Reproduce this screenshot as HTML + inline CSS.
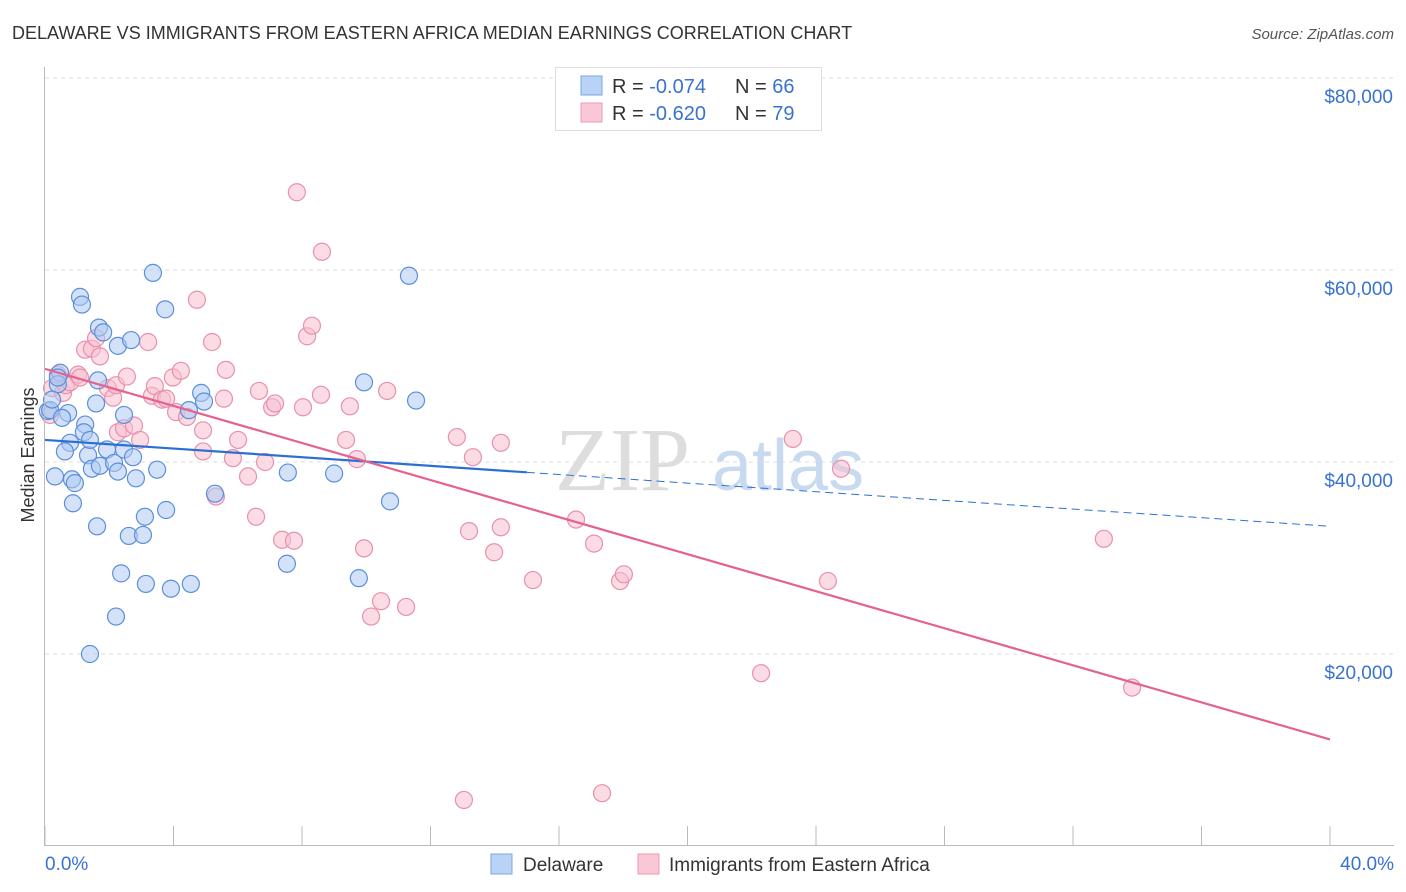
<!DOCTYPE html>
<html><head><meta charset="utf-8">
<style>
body{margin:0;background:#fff;font-family:"Liberation Sans",sans-serif;}
svg{display:block}
</style></head>
<body>
<svg id="chart" width="1406" height="892">
<text x="12" y="39" font-size="18" fill="#333">DELAWARE VS IMMIGRANTS FROM EASTERN AFRICA MEDIAN EARNINGS CORRELATION CHART</text>
<text x="1394" y="39" font-size="15" fill="#555" text-anchor="end" font-style="italic">Source: ZipAtlas.com</text>
<g id="grid"></g>
<g>
<text x="555" y="490" font-size="90" fill="#ddd" font-family="Liberation Serif,serif">ZIP</text>
<text x="712" y="490" font-size="72" fill="#c8daf0">atlas</text>
</g>
<g id="pts"></g>
<g id="lines"></g>
<g id="axes"></g>
<text transform="translate(34,455) rotate(-90)" font-size="18" fill="#333" text-anchor="middle">Median Earnings</text>
<g>
<rect x="555.5" y="67.5" width="266" height="63" fill="#fff" stroke="#ddd"/>
<rect x="581" y="76" width="21" height="19" fill="#b9d3f5" stroke="#7aa5e6"/>
<rect x="581" y="103" width="21" height="19" fill="#fac7d6" stroke="#ee9ab4"/>
<text x="612" y="93" font-size="20" fill="#333">R = <tspan fill="#3a72d0">-0.074</tspan></text>
<text x="735" y="93" font-size="20" fill="#333">N = <tspan fill="#3a72d0">66</tspan></text>
<text x="612" y="120" font-size="20" fill="#333">R = <tspan fill="#3a72d0">-0.620</tspan></text>
<text x="735" y="120" font-size="20" fill="#333">N = <tspan fill="#3a72d0">79</tspan></text>
</g>
<g>
<rect x="491" y="854" width="21" height="20" fill="#b9d3f5" stroke="#7aa5e6"/>
<text x="523" y="871" font-size="19" fill="#333">Delaware</text>
<rect x="638" y="854" width="21" height="20" fill="#fac7d6" stroke="#ee9ab4"/>
<text x="669" y="871" font-size="19" fill="#333">Immigrants from Eastern Africa</text>
</g>
</svg>
<script>
const blueX=[0.31,0.09,0.16,0.47,0.40,0.72,0.78,0.62,0.84,0.93,0.87,1.25,1.34,1.46,1.59,1.62,1.40,1.65,1.71,1.09,1.15,1.68,1.81,2.27,1.93,2.15,2.27,2.46,2.46,2.74,2.68,2.83,2.21,2.37,2.61,3.05,3.11,3.14,3.36,3.49,3.74,3.77,3.92,4.54,4.48,4.86,4.95,5.29,7.56,7.53,9.00,9.77,9.93,10.74,11.33,11.55,0.22,0.40,0.53,1.21,1.40];
const blueY=[38.5,45.3,45.4,49.3,48.1,45.1,42.0,41.1,38.2,37.8,35.7,43.9,40.7,39.3,46.1,33.3,20.0,48.5,39.6,57.2,56.4,54.0,53.5,52.1,41.3,39.9,39.0,44.9,41.3,40.5,52.7,38.3,23.9,28.4,32.3,32.4,34.3,27.3,59.7,39.2,55.9,35.0,26.8,27.3,45.4,47.2,46.3,36.7,38.9,29.4,38.8,27.9,48.3,35.9,59.4,46.4,46.5,48.8,44.6,43.1,42.3];
const pinkX=[0.16,0.22,0.40,0.56,0.65,0.78,1.03,1.09,1.25,1.46,1.59,1.71,1.96,2.12,2.21,2.27,2.46,2.55,2.77,2.96,3.21,3.33,3.42,3.64,3.77,3.98,4.08,4.23,4.42,4.73,4.92,4.92,5.20,5.32,5.57,5.63,5.85,6.01,6.32,6.57,6.66,6.85,7.07,7.16,7.38,7.75,7.84,8.03,8.16,8.31,8.59,8.62,9.37,9.49,9.71,9.93,10.15,10.46,10.65,11.24,12.82,13.20,13.32,13.04,13.98,14.19,14.19,15.19,16.53,17.09,17.34,17.90,18.02,22.29,23.28,24.37,24.78,32.96,33.84];
const pinkY=[44.9,47.7,49.1,47.2,48.0,48.3,49.1,48.8,51.7,51.8,52.9,51.0,47.7,46.7,48.0,43.1,43.5,48.9,43.8,42.3,52.5,46.9,47.9,46.5,46.6,48.8,45.2,49.5,44.7,56.9,43.3,41.1,52.5,36.4,46.6,49.6,40.4,42.3,38.5,34.3,47.4,40.0,45.7,46.1,31.9,31.8,68.1,45.7,53.1,54.2,47.0,61.9,42.3,45.8,40.3,31.0,23.9,25.5,47.4,24.9,42.6,32.8,40.5,4.8,30.6,42.0,33.2,27.7,34.0,31.5,5.5,27.6,28.3,18.0,42.4,27.6,39.3,32.0,16.5];
const yTicks=[20,40,60,80];
const yTickLabels=["$20,000","$40,000","$60,000","$80,000"];
const xTicks=[0,4,8,12,16,20,24,28,32,36,40];
const blueTrend=[42.3,33.3];
const pinkTrend=[49.7,11.1];
const blueSolidEnd=15;

const NS="http://www.w3.org/2000/svg";
const X=v=>45+v/40*1285;
const Y=v=>846-v/20*192;
function mk(tag,attrs,parent){const e=document.createElementNS(NS,tag);for(const k in attrs)e.setAttribute(k,attrs[k]);parent.appendChild(e);return e;}
const grid=document.getElementById('grid'),axes=document.getElementById('axes'),pts=document.getElementById('pts'),lines=document.getElementById('lines');
yTicks.forEach((t,i)=>{
 const l=mk('line',{x1:45,x2:1394,y1:Y(t),y2:Y(t),stroke:'#ddd','stroke-dasharray':'4,4'},grid);
 
 
 const tx=mk('text',{x:1393,y:Y(t)+25,'font-size':19,fill:'#3a72d0','text-anchor':'end'},axes);
 tx.textContent=yTickLabels[i];
 
 
});
const ya=mk('line',{x1:44.5,x2:44.5,y1:67,y2:846,stroke:'#bbb'},axes);


const xa=mk('line',{x1:44,x2:1394,y1:845.5,y2:845.5,stroke:'#bbb'},axes);


xTicks.forEach(t=>{
 const l=mk('line',{x1:X(t),x2:X(t),y1:826,y2:846,stroke:'#bbb'},axes);
 
 
});
[[0,'0.0%','start',45],[40,'40.0%','end',1394]].forEach(a=>{
 const tx=mk('text',{x:a[3],y:870,'font-size':19,fill:'#3a72d0','text-anchor':a[2]},axes);
 tx.textContent=a[1];
 
 
});
function dots(xs,ys,fill,stroke,name){xs.forEach((x,i)=>{
 const c=mk('circle',{cx:X(x),cy:Y(ys[i]),r:8.5,fill:fill,'fill-opacity':0.55,stroke:stroke,'stroke-width':1.2},pts);
 
 
});}
dots(pinkX,pinkY,'#f8bfd0','#e990ad','eastern-africa-point');
dots(blueX,blueY,'#aecbf2','#5b8fdc','delaware-point');
const bAt=x=>blueTrend[0]+(blueTrend[1]-blueTrend[0])*x/40;
const b1=mk('line',{x1:X(0),y1:Y(bAt(0)),x2:X(blueSolidEnd),y2:Y(bAt(blueSolidEnd)),stroke:'#2a6fd6','stroke-width':2.2},lines);


const b2=mk('line',{x1:X(blueSolidEnd),y1:Y(bAt(blueSolidEnd)),x2:X(40),y2:Y(bAt(40)),stroke:'#2a6fd6','stroke-width':1,'stroke-dasharray':'8,5'},lines);


const p1=mk('line',{x1:X(0),y1:Y(pinkTrend[0]),x2:X(40),y2:Y(pinkTrend[1]),stroke:'#e4638e','stroke-width':2.2},lines);


</script>
</body></html>
